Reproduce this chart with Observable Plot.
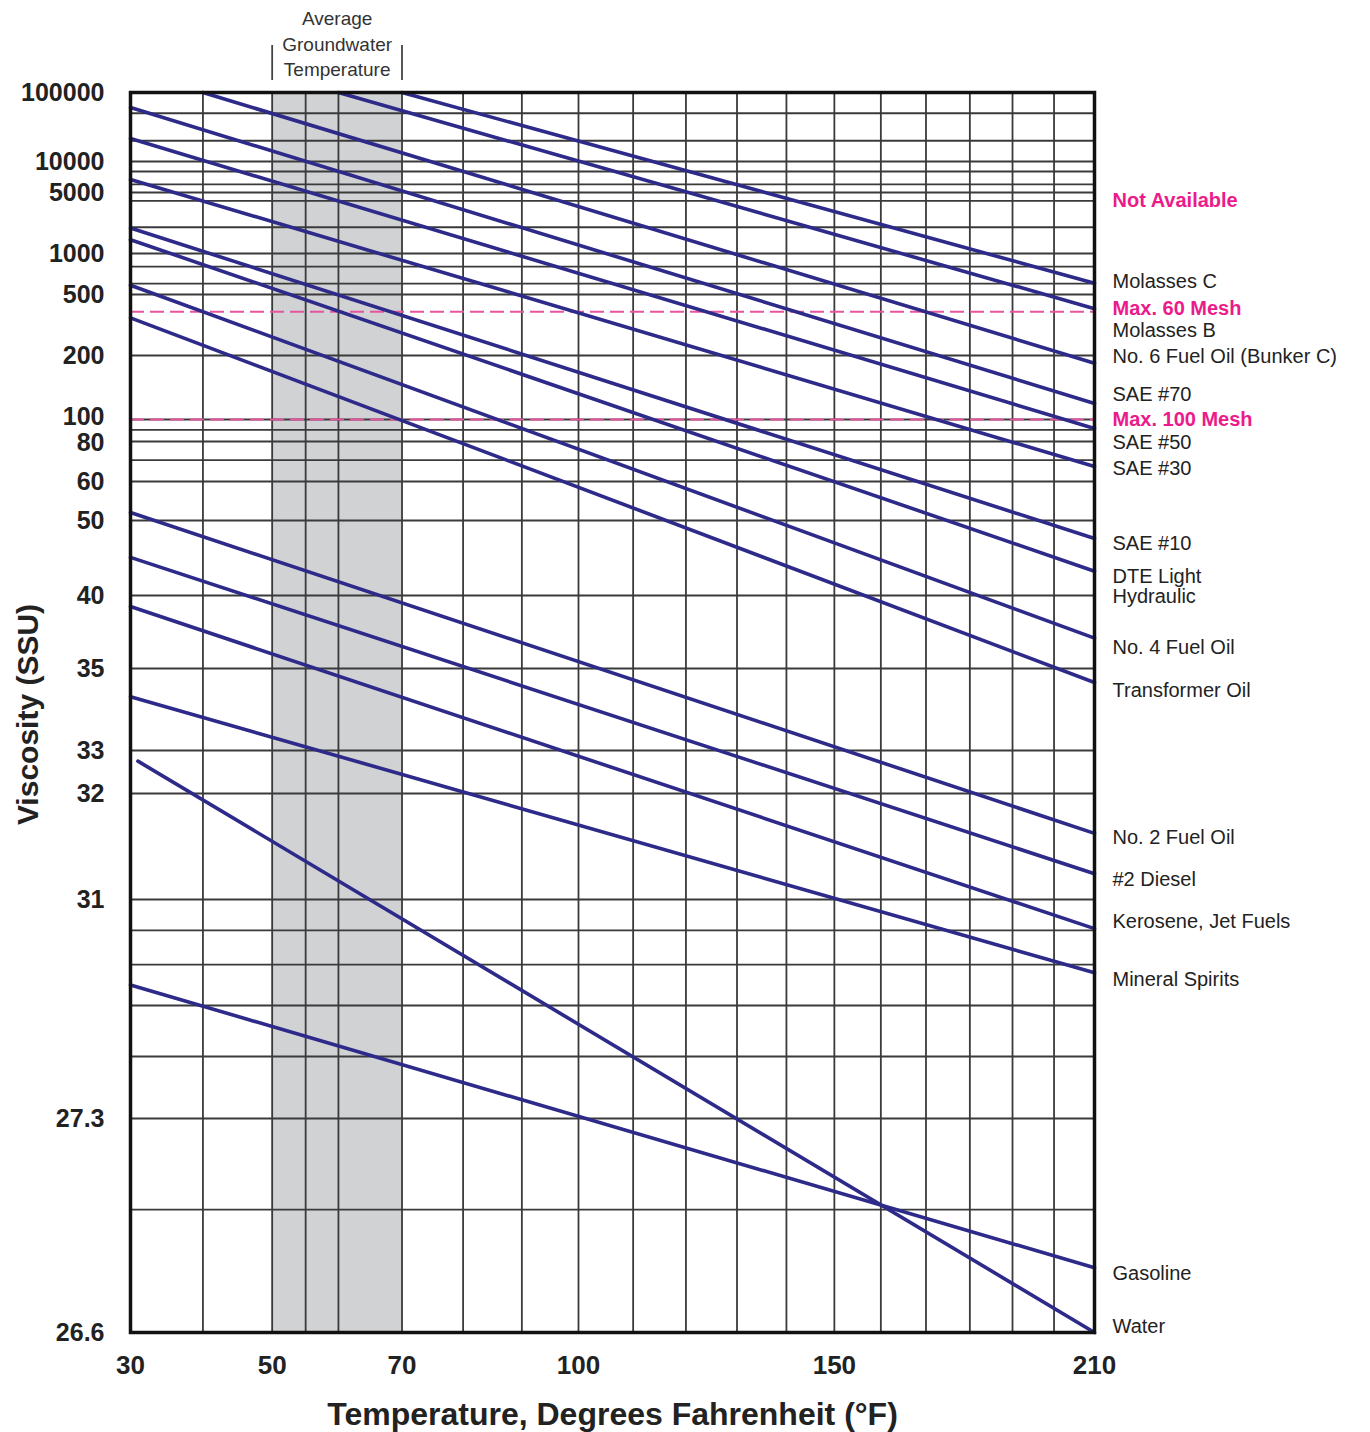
<!DOCTYPE html>
<html>
<head>
<meta charset="utf-8">
<script src="https://cdn.jsdelivr.net/npm/d3@7"></script>
<script src="https://cdn.jsdelivr.net/npm/@observablehq/plot@0.6"></script>
<style>
  html, body { margin: 0; padding: 0; background: #fff; }
  #chart svg { display: block; }
</style>
</head>
<body>
<div id="chart"></div>
<script>
// ---------- data ----------
const fluids = [
  "Molasses C", "Molasses B", "No. 6 Fuel Oil (Bunker C)", "SAE #70", "SAE #50",
  "SAE #30", "SAE #10", "DTE Light\nHydraulic", "No. 4 Fuel Oil", "Transformer Oil",
  "No. 2 Fuel Oil", "#2 Diesel", "Kerosene, Jet Fuels", "Mineral Spirits", "Gasoline", "Water"
];
const startTemp = [70, 60, 40, 30, 30, 30, 30, 30, 30, 30, 30, 30, 30, 30, 30, 31];
const startVisc = [100000, 100000, 100000, 60600, 21500, 6700, 1960, 1440, 585, 352, 51.9, 44.8, 39.2, 34.3, 29.5, 32.75];
const endTemp   = [210, 210, 210, 210, 210, 210, 210, 210, 210, 210, 210, 210, 210, 210, 210, 210];
const endVisc   = [605, 404, 184, 119, 91.3, 66.8, 47.4, 43.0, 37.0, 34.65, 31.62, 31.24, 30.48, 29.71, 26.81, 26.6];
const labelVisc = [626, 290, 198, 130.5, 79.6, 65.9, 46.7, 41.1, 36.37, 34.45, 31.58, 31.19, 30.61, 29.59, 26.79, 26.62];

const meshNames = ["Not Available", "Max. 60 Mesh", "Max. 100 Mesh"];
const meshVisc  = [4000, 386, 100];      // dashed limit lines at 386 and 100
const meshLabelVisc = [4000, 405, 100];

const xTicks = [30, 50, 70, 100, 150, 210];
const xGrid  = [30, 40, 50, 55, 60, 70, 80, 90, 100, 110, 120, 130, 140, 150, 160, 170, 180, 190, 200, 210];
const bandTemps = [50, 70];              // average groundwater temperature

const yTicks = [26.6, 27.3, 31, 32, 33, 35, 40, 50, 60, 80, 100, 200, 500, 1000, 5000, 10000, 100000];
// where each tick label sits (the tightly stacked "100" / "80" pair is nudged apart as printed)
const yTickLabelVisc = [26.6, 27.3, 31, 32, 33, 35, 40, 50, 60, 78.9, 102.2, 200, 500, 1000, 5000, 10000, 100000];
const yGridExtra = [27.0, 28.3, 29.15, 29.85, 30.45, 70, 90, 600, 800, 2000, 4000, 6000, 8000, 20000, 50000];

// ---------- scales ----------
const OFF = 180;                 // printed temperature axis is logarithmic in (°F + 180)
const tx = t => t + OFF;

const rows = fluids.flatMap((name, i) => [
  {name, t: startTemp[i], v: startVisc[i]},
  {name, t: endTemp[i],   v: endVisc[i]}
]);

const LINE = "#2d2a8a";
const PINK = "#ec1a8a";
const FONT = "'Liberation Sans', Arial, Helvetica, sans-serif";

const chart = Plot.plot({
  width: 1370,
  height: 1432,
  marginTop: 92,
  marginBottom: 100,
  marginLeft: 130,
  marginRight: 276,
  style: {fontFamily: FONT, background: "#fff", overflow: "visible"},
  x: {type: "log", domain: [tx(30), tx(210)], axis: null},
  // the printed viscosity axis is irregular: piecewise-log between its labelled values
  y: {
    type: "log",
    domain: yTicks,
    range: [1332, 1118, 899, 793, 750, 668, 595, 520, 481, 441, 419, 355, 294, 253, 192, 161, 92],
    axis: null
  },
  marks: [
    Plot.rect([bandTemps], {x1: d => tx(d[0]), x2: d => tx(d[1]), fill: "#d1d2d4"}),
    Plot.ruleX(xGrid, {x: tx, stroke: "#3a3a3a", strokeWidth: 1.8}),
    Plot.ruleY(yTicks.concat(yGridExtra), {stroke: "#3a3a3a", strokeWidth: 1.8}),
    Plot.ruleY(meshVisc.slice(1), {stroke: "#e8559f", strokeWidth: 2.2, strokeDasharray: "14,6"}),
    Plot.line(rows, {x: d => tx(d.t), y: "v", z: "name", stroke: LINE, strokeWidth: 3.6}),
    Plot.frame({stroke: "#111", strokeWidth: 3.5}),
    // tick labels
    Plot.text(xTicks, {
      x: tx, frameAnchor: "bottom", lineAnchor: "middle", dy: 33, text: d => String(d),
      fontSize: 26, fontWeight: "bold", fill: "#222"
    }),
    Plot.text(yTicks, {
      y: (d, i) => yTickLabelVisc[i], frameAnchor: "left", textAnchor: "end", lineAnchor: "middle", dx: -26,
      text: d => String(d), fontSize: 25, fontWeight: "bold", fill: "#222"
    }),
    // series labels at the right
    Plot.text(fluids, {
      frameAnchor: "right", y: (d, i) => labelVisc[i], text: d => d,
      textAnchor: "start", lineAnchor: "middle", dx: 18, fontSize: 20, fill: "#222", lineHeight: 1.0
    }),
    Plot.text(meshNames, {
      frameAnchor: "right", y: (d, i) => meshLabelVisc[i], text: d => d,
      textAnchor: "start", lineAnchor: "middle", dx: 18, fontSize: 20, fontWeight: "bold", fill: PINK
    }),
    // groundwater header
    Plot.text(["Average\nGroundwater\nTemperature"], {
      x: tx((bandTemps[0] + bandTemps[1]) / 2 - 0.2), frameAnchor: "top", lineAnchor: "middle", dy: -50,
      text: d => d, fontSize: 19, lineHeight: 1.32, fill: "#333",
      fontFamily: "'Liberation Sans Narrow', 'Liberation Sans', Arial, sans-serif"
    }),
    Plot.ruleX(bandTemps, {x: tx, y1: 100000, y2: 100000, insetTop: -47, insetBottom: 12, stroke: "#444", strokeWidth: 1.8}),
    // axis titles
    Plot.text(["Viscosity (SSU)"], {
      frameAnchor: "left", text: d => d, rotate: -90, textAnchor: "middle", lineAnchor: "middle",
      dx: -102, dy: 2, fontSize: 30, fontWeight: "bold", fill: "#222"
    }),
    Plot.text(["Temperature, Degrees Fahrenheit (°F)"], {
      frameAnchor: "bottom", text: d => d, lineAnchor: "middle", dy: 82,
      fontSize: 32, fontWeight: "bold", fill: "#222"
    })
  ]
});

document.getElementById("chart").appendChild(chart);
</script>
</body>
</html>
